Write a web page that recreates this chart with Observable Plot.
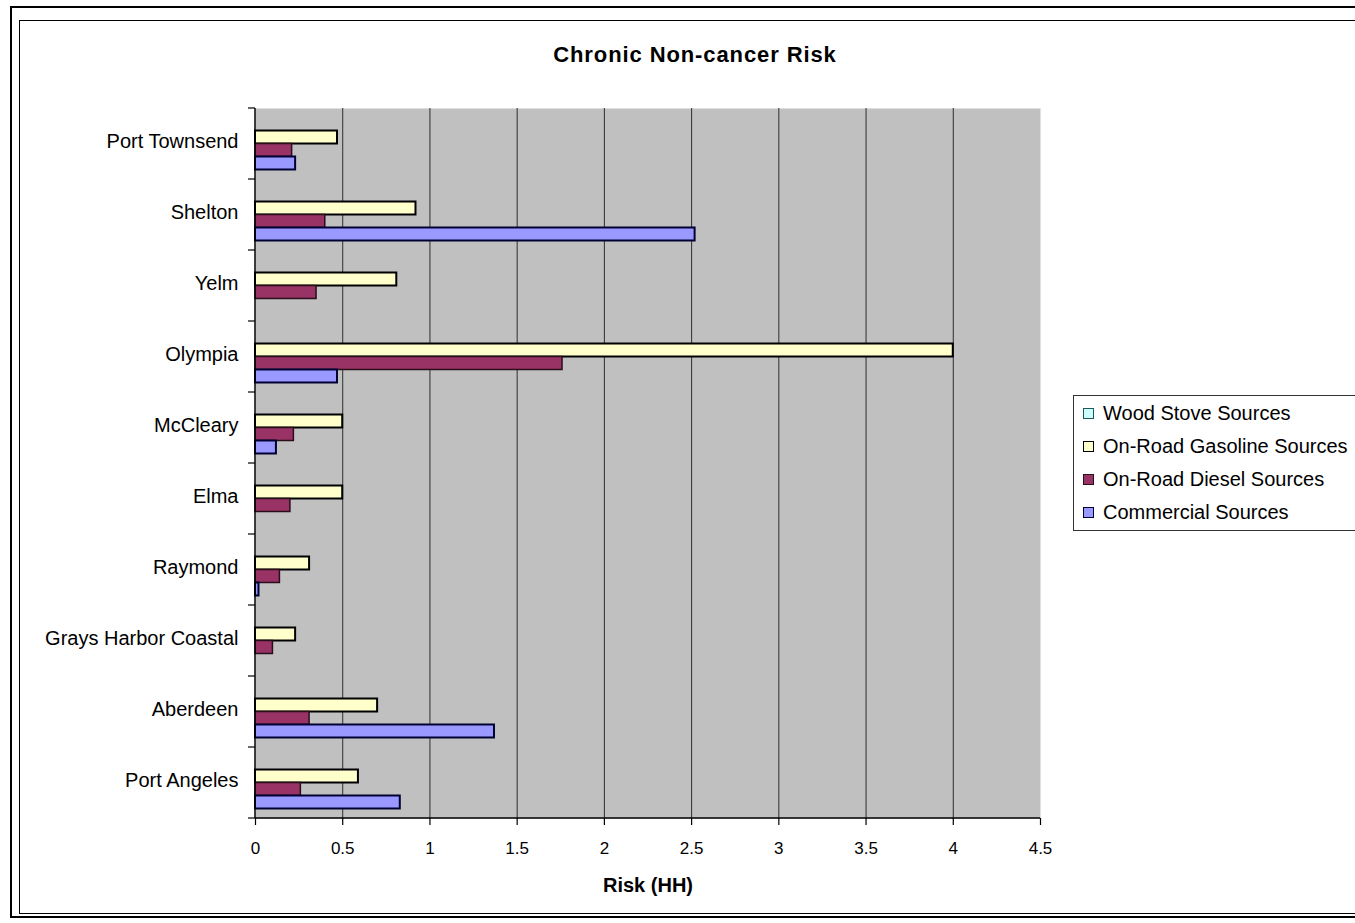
<!DOCTYPE html>
<html>
<head>
<meta charset="utf-8">
<script src="https://cdn.jsdelivr.net/npm/d3@7"></script>
<script src="https://cdn.jsdelivr.net/npm/@observablehq/plot@0.6"></script>
<style>
  html, body { margin: 0; padding: 0; background: #fff; }
  body { width: 1355px; height: 923px; position: relative; overflow: hidden; font-family: "Liberation Sans", Arial, sans-serif; }
  .frame-outer { position: absolute; left: 10px; top: 6px; width: 1400px; height: 912px; border: 2.5px solid #000; box-sizing: border-box; }
  .frame-inner { position: absolute; left: 19px; top: 20px; width: 1400px; height: 894px; border: 1px solid #000; box-sizing: border-box; }
  #chart { position: absolute; left: 0; top: 0; }
  .title { position: absolute; left: 395px; width: 600px; top: 42px; text-align: center; font-weight: bold; font-size: 22px; letter-spacing: 0.9px; color: #000; }
  .legend { position: absolute; left: 1073px; top: 395px; width: 300px; height: 136px; border: 1px solid #333; box-sizing: border-box; background: #fff; }
  .legend .row { position: absolute; left: 9px; height: 24px; display: flex; align-items: center; font-size: 20px; color: #000; white-space: nowrap; }
  .legend .sw { width: 9px; height: 9px; margin-right: 9px; box-sizing: content-box; }
</style>
</head>
<body>
<div class="frame-outer"></div>
<div class="frame-inner"></div>
<div id="chart"></div>
<div class="title">Chronic Non-cancer Risk</div>
<div class="legend" id="legend"></div>
<script>
// Chronic non-cancer risk (hazard index) by community and emission source
const cities = ["Port Townsend", "Shelton", "Yelm", "Olympia", "McCleary", "Elma",
  "Raymond", "Grays Harbor Coastal", "Aberdeen", "Port Angeles"];
const woodStove  = [0, 0, 0, 0, 0, 0, 0, 0, 0, 0];
const gasoline   = [0.47, 0.92, 0.81, 4.00, 0.50, 0.50, 0.31, 0.23, 0.70, 0.59];
const diesel     = [0.21, 0.40, 0.35, 1.76, 0.22, 0.20, 0.14, 0.10, 0.31, 0.26];
const commercial = [0.23, 2.52, 0, 0.47, 0.12, 0, 0.02, 0, 1.37, 0.83];
const seriesNames = ["Wood Stove Sources", "On-Road Gasoline Sources", "On-Road Diesel Sources", "Commercial Sources"];
const seriesValues = [woodStove, gasoline, diesel, commercial];
const xTicks = [0, 0.5, 1, 1.5, 2, 2.5, 3, 3.5, 4, 4.5];
const xLabel = "Risk (HH)";

// Series appearance
const styles = {
  "Wood Stove Sources":       {fill: "#CCFFFF", stroke: "#1d5a5a", strokeWidth: 1.5},
  "On-Road Gasoline Sources": {fill: "#FFFFCC", stroke: "#000000", strokeWidth: 2},
  "On-Road Diesel Sources":   {fill: "#993366", stroke: "#2a0e1a", strokeWidth: 1.5},
  "Commercial Sources":       {fill: "#9999FF", stroke: "#000033", strokeWidth: 2}
};

const width = 1355, height = 923;
const margin = {top: 108, right: 315, bottom: 105, left: 255};
const band = (height - margin.top - margin.bottom) / cities.length;
const barH = band * 0.183;
const pad = (band - seriesNames.length * barH) / 2;

// One bar mark per series, stacked vertically inside each community band
const barMarks = seriesNames.map((name, i) => {
  const rows = cities.map((city, j) => ({city, source: name, value: seriesValues[i][j]}))
    .filter(d => d.value > 0);
  return Plot.barX(rows, {
    y: "city", x: "value",
    ...styles[name],
    insetTop: pad + i * barH,
    insetBottom: band - pad - (i + 1) * barH
  });
});

// Axis lines and the category-boundary ticks on the left axis
function axisLines(index, scales, values, dims) {
  const x = scales.x, y = scales.y;
  const bw = y.bandwidth ? y.bandwidth() : band;
  const g = d3.create("svg:g").attr("stroke", "#000").attr("fill", "none");
  const x0 = x(0);
  const yTop = y(cities[0]);
  const yBot = y(cities[cities.length - 1]) + bw;
  g.append("line").attr("x1", x0).attr("x2", x0).attr("y1", yTop).attr("y2", yBot).attr("stroke-width", 1.5);
  g.append("line").attr("x1", x0).attr("x2", x(4.5)).attr("y1", yBot).attr("y2", yBot).attr("stroke-width", 1.5);
  const bounds = [yTop, ...cities.map(c => y(c) + bw)];
  for (const b of bounds) {
    g.append("line").attr("x1", x0 - 7).attr("x2", x0).attr("y1", b).attr("y2", b).attr("stroke-width", 1.2);
  }
  return g.node();
}

const chart = Plot.plot({
  width, height,
  marginTop: margin.top, marginRight: margin.right, marginBottom: margin.bottom, marginLeft: margin.left,
  style: {background: "transparent", fontFamily: "'Liberation Sans', Arial, sans-serif", color: "#000", overflow: "visible"},
  x: {domain: [0, 4.5], label: null},
  y: {domain: cities, padding: 0, label: null},
  marks: [
    Plot.frame({fill: "#C0C0C0", stroke: null}),
    Plot.ruleX(xTicks.filter(t => t > 0 && t < 4.5), {stroke: "#2e2e2e", strokeWidth: 1}),
    ...barMarks,
    axisLines,
    Plot.axisX({ticks: xTicks, tickSize: 7, tickPadding: 16, fontSize: 17, tickFormat: d => `${d}`, label: null, stroke: "#000", strokeWidth: 1.2}),
    Plot.axisY({tickSize: 0, tickPadding: 17, fontSize: 20, label: null, dy: -2}),
    Plot.text([xLabel], {frameAnchor: "bottom", dy: 67, fontSize: 20, fontWeight: "bold", lineAnchor: "middle"})
  ]
});
document.getElementById("chart").append(chart);

// Legend
const legend = document.getElementById("legend");
seriesNames.forEach((name, i) => {
  const row = document.createElement("div");
  row.className = "row";
  row.style.top = (5 + i * 33.3) + "px";
  const sw = document.createElement("span");
  sw.className = "sw";
  sw.style.background = styles[name].fill;
  sw.style.border = `1.5px solid ${styles[name].stroke}`;
  row.append(sw, document.createTextNode(name));
  legend.append(row);
});
</script>
</body>
</html>
